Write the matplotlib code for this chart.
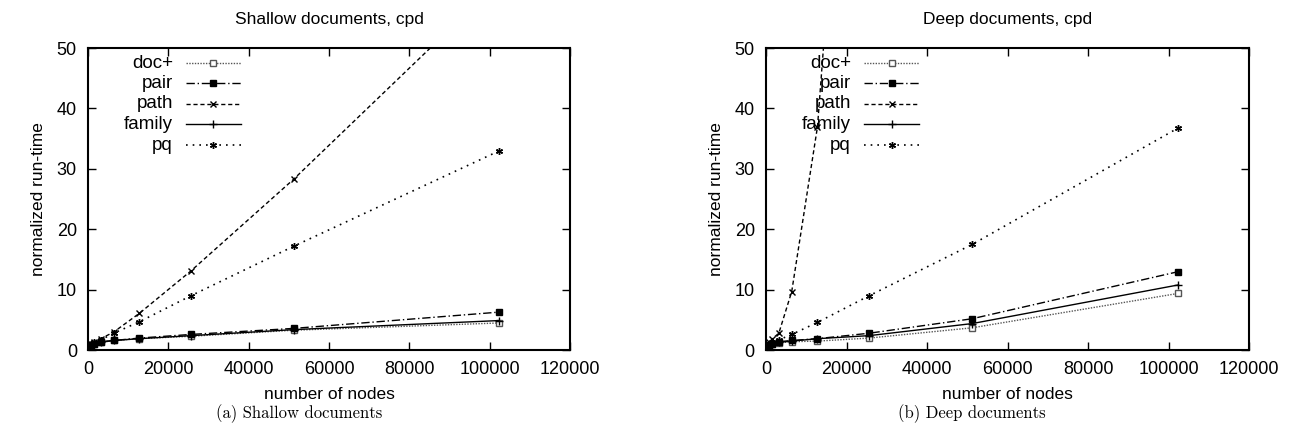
#!/usr/bin/env python3
"""Normalized run-time vs. number of nodes, shallow and deep documents (cpd)."""
import matplotlib
matplotlib.use("Agg")
import matplotlib.pyplot as plt

plt.rcParams["font.family"] = ["Liberation Sans", "DejaVu Sans"]

# number of nodes per document set
nodes = [100, 200, 400, 800, 1600, 3200, 6400, 12800, 25600, 51200, 102400]

series_names = ["doc+", "pair", "path", "family", "pq"]

# shallow documents
shallow_doc = [0.5, 0.6, 0.7, 0.85, 1.0, 1.3, 1.6, 1.9, 2.3, 3.3, 4.5]
shallow_pair = [0.5, 0.6, 0.7, 0.9, 1.1, 1.4, 1.6, 2.0, 2.6, 3.6, 6.3]
shallow_path = [0.5, 0.6, 0.8, 1.0, 1.4, 1.9, 3.0, 6.1, 13.1, 28.3, 61.0]
shallow_family = [0.5, 0.6, 0.7, 0.85, 1.0, 1.3, 1.6, 1.9, 2.4, 3.4, 4.9]
shallow_pq = [0.5, 0.6, 0.8, 1.0, 1.3, 1.7, 2.8, 4.7, 9.0, 17.2, 33.0]

# deep documents (path leaves the plot after 25600 nodes)
deep_doc = [0.5, 0.6, 0.7, 0.85, 1.0, 1.2, 1.4, 1.5, 2.0, 3.7, 9.4]
deep_pair = [0.5, 0.6, 0.7, 0.9, 1.1, 1.4, 1.6, 1.9, 2.8, 5.2, 13.0]
deep_path = [0.5, 0.7, 0.9, 1.3, 1.9, 2.8, 9.7, 37.0, 150.0]
deep_family = [0.5, 0.6, 0.7, 0.85, 1.0, 1.3, 1.5, 1.9, 2.4, 4.4, 10.8]
deep_pq = [0.5, 0.6, 0.8, 1.0, 1.3, 1.7, 2.6, 4.6, 9.0, 17.5, 36.8]

xticks = [0, 20000, 40000, 60000, 80000, 100000, 120000]
yticks = [0, 10, 20, 30, 40, 50]

styles = {
    "doc+": dict(color="#555555", ls=(0, (1, 1)), marker="s", mfc="white", ms=4.5, lw=1.0),
    "pair": dict(color="black", ls=(0, (6, 2, 1, 2)), marker="s", mfc="black", ms=4.5, lw=1.0),
    "path": dict(color="black", ls=(0, (3, 2)), marker="x", ms=4.5, lw=1.0),
    "family": dict(color="black", ls="-", marker="+", ms=5.5, lw=1.0),
    "pq": dict(color="black", ls=(0, (1, 3)), marker=(6, 2, 0), ms=5, lw=1.2),
}

fig = plt.figure(figsize=(12.96, 4.41), dpi=100)
ax1 = fig.add_axes([0.0679, 0.206, 0.372, 0.685])
ax2 = fig.add_axes([0.591, 0.206, 0.373, 0.685])

panels = [
    (ax1, "Shallow documents, cpd",
     [shallow_doc, shallow_pair, shallow_path, shallow_family, shallow_pq]),
    (ax2, "Deep documents, cpd",
     [deep_doc, deep_pair, deep_path, deep_family, deep_pq]),
]

legend_y = [0.950, 0.884, 0.815, 0.748, 0.679]

for ax, title, data in panels:
    for name, ys in zip(series_names, data):
        ax.plot(nodes[:len(ys)], ys, **styles[name])

    # gnuplot-style key: label right-aligned, sample line to the right
    for name, ly in zip(series_names, legend_y):
        ax.text(0.176, ly, name, transform=ax.transAxes, ha="right",
                va="center", fontsize=13.5)
        st = dict(styles[name])
        ax.plot([0.203, 0.317], [ly, ly], transform=ax.transAxes,
                marker="", color=st["color"], ls=st["ls"], lw=st["lw"])
        ax.plot([0.26], [ly], transform=ax.transAxes, ls="none",
                marker=st["marker"], mfc=st.get("mfc", "black"),
                color=st["color"], ms=st["ms"])

    ax.set_xlim(0, 120000)
    ax.set_ylim(0, 50)
    ax.set_xticks(xticks)
    ax.set_yticks(yticks)
    ax.tick_params(direction="in", length=6, width=1, labelsize=13,
                   top=True, right=True, pad=8)
    for sp in ax.spines.values():
        sp.set_linewidth(1.5)
    ax.set_title(title, fontsize=12.5, pad=17)
    ax.set_xlabel("number of nodes", fontsize=12.5, labelpad=6)
    ax.set_ylabel("normalized run-time", fontsize=12.5, labelpad=8)

fig.text(0.231, 0.063, "(a) Shallow documents", ha="center", va="center",
         fontsize=12, family="cmr10")
fig.text(0.750, 0.063, "(b) Deep documents", ha="center", va="center",
         fontsize=12, family="cmr10")

fig.savefig("out.png", dpi=100)
